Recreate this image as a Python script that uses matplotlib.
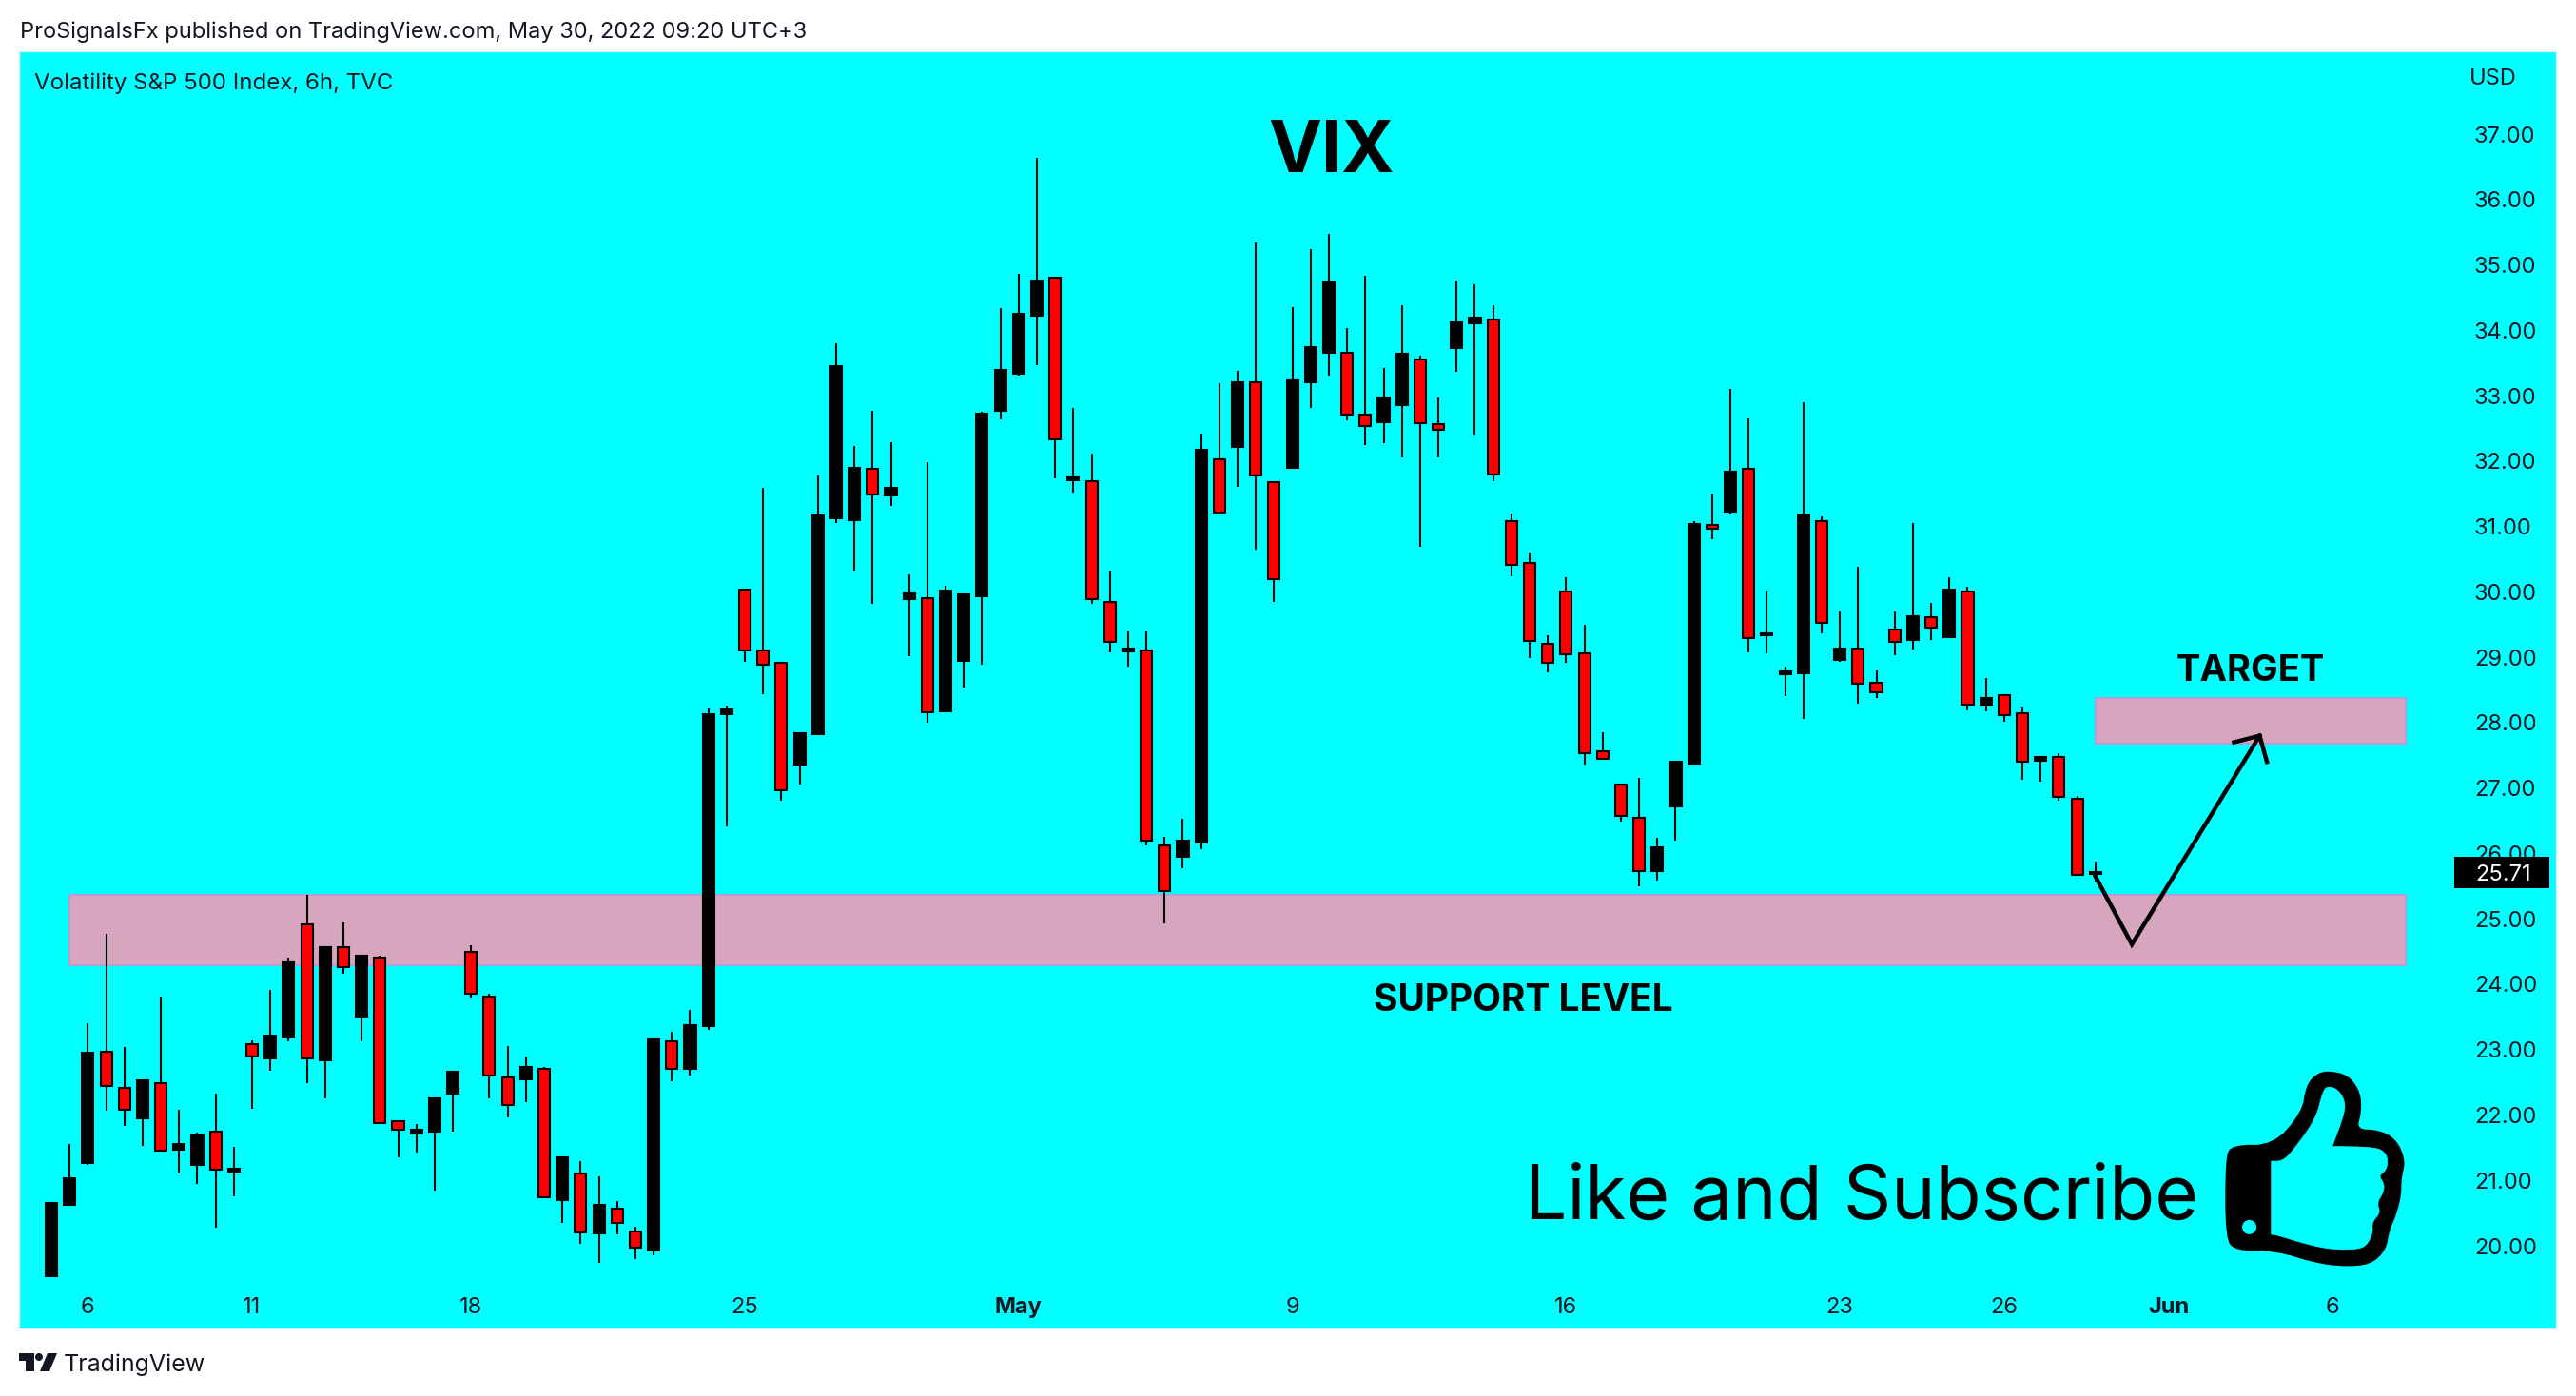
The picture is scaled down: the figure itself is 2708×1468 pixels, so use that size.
import numpy as np
import matplotlib
matplotlib.use('Agg')
import matplotlib.pyplot as plt
from matplotlib.patches import Rectangle, Polygon, Ellipse
from matplotlib.transforms import Affine2D

plt.rcParams['font.family'] = ['Inter', 'DejaVu Sans']

# Candles, 6h bars (black = up, red = down)
opens = [19.54, 20.62, 21.26, 22.96, 22.41, 21.95, 22.49, 21.47, 21.23, 21.74,
         21.14, 23.08, 22.87, 23.18, 24.92, 22.84, 24.56, 23.50, 24.41, 21.90,
         21.71, 21.74, 22.33, 24.50, 23.81, 22.57, 22.54, 22.70, 20.70, 21.11,
         20.19, 20.57, 20.22, 19.93, 23.13, 22.70, 23.36, 28.13, 30.03, 29.10,
         28.92, 27.36, 27.83, 31.13, 31.10, 31.88, 31.48, 29.89, 29.91, 28.18,
         28.95, 29.94, 32.77, 33.34, 34.23, 34.80, 31.71, 31.70, 29.85, 29.09,
         29.11, 26.13, 25.95, 26.17, 32.03, 32.22, 33.20, 31.68, 31.89, 33.21,
         33.66, 33.65, 32.71, 32.59, 32.86, 33.56, 32.56, 33.73, 34.11, 34.17,
         31.08, 30.44, 29.21, 30.00, 29.06, 27.57, 27.06, 26.55, 25.73, 26.72,
         27.38, 31.03, 31.23, 31.88, 29.33, 28.74, 28.76, 31.08, 28.96, 29.14,
         28.61, 29.42, 29.27, 29.62, 29.31, 30.01, 28.28, 28.42, 28.15, 27.42,
         27.48, 26.84, 25.68]
highs = [20.67, 21.55, 23.41, 24.77, 23.04, 22.54, 23.81, 22.08, 21.73, 22.32,
         21.51, 23.14, 23.91, 24.40, 25.37, 24.57, 24.95, 24.44, 24.43, 21.90,
         21.86, 22.25, 22.67, 24.59, 23.85, 23.06, 22.90, 22.73, 21.36, 21.30,
         21.06, 20.68, 20.29, 23.16, 23.27, 23.60, 28.22, 28.26, 30.05, 31.59,
         28.92, 27.86, 31.78, 33.80, 32.23, 32.77, 32.29, 30.27, 31.99, 30.09,
         29.96, 32.75, 34.34, 34.86, 36.64, 34.80, 32.81, 32.11, 30.32, 29.39,
         29.40, 26.26, 26.53, 32.42, 33.19, 33.38, 35.34, 31.68, 34.36, 35.24,
         35.47, 34.03, 34.83, 33.42, 34.38, 33.62, 32.97, 34.76, 34.70, 34.38,
         31.20, 30.60, 29.33, 30.22, 29.49, 27.86, 27.06, 27.16, 26.24, 27.41,
         31.08, 31.49, 33.10, 32.65, 30.01, 28.85, 32.90, 31.15, 29.70, 30.38,
         28.80, 29.70, 31.06, 29.83, 30.22, 30.08, 28.68, 28.44, 28.24, 27.48,
         27.53, 26.88, 25.87]
lows = [19.54, 20.62, 21.23, 22.06, 21.84, 21.53, 21.45, 21.11, 20.95, 20.27,
        20.75, 22.09, 22.68, 23.13, 22.48, 22.26, 24.16, 23.13, 21.88, 21.36,
        21.43, 20.85, 21.75, 23.80, 22.26, 21.97, 22.19, 20.74, 20.35, 20.03,
        19.74, 20.18, 19.80, 19.85, 22.52, 22.61, 23.30, 26.41, 28.93, 28.43,
        26.80, 27.06, 27.83, 31.06, 30.33, 29.82, 31.31, 29.01, 28.00, 28.18,
        28.54, 28.89, 32.64, 33.31, 33.47, 31.74, 31.52, 29.82, 29.07, 28.86,
        26.13, 24.93, 25.78, 26.06, 31.19, 31.61, 30.65, 29.84, 31.89, 32.82,
        33.31, 32.63, 32.24, 32.28, 32.06, 30.69, 32.06, 33.37, 32.41, 31.70,
        30.24, 28.99, 28.77, 28.91, 27.36, 27.44, 26.49, 25.50, 25.59, 26.20,
        27.38, 30.80, 31.18, 29.08, 29.06, 28.41, 28.06, 29.36, 28.93, 28.29,
        28.38, 29.03, 29.12, 29.26, 29.30, 28.19, 28.17, 28.02, 27.13, 27.10,
        26.81, 25.67, 25.56]
closes = [20.655, 21.03, 22.95, 22.44, 22.08, 22.53, 21.45, 21.56, 21.70, 21.17,
          21.18, 22.89, 23.22, 24.33, 22.86, 24.57, 24.26, 24.44, 21.88, 21.78,
          21.77, 22.25, 22.66, 23.85, 22.61, 22.15, 22.73, 20.74, 21.36, 20.20,
          20.62, 20.35, 19.97, 23.15, 22.70, 23.37, 28.13, 28.20, 29.11, 28.89,
          26.97, 27.84, 31.17, 33.45, 31.90, 31.49, 31.59, 29.97, 28.16, 30.02,
          29.96, 32.73, 33.39, 34.25, 34.76, 32.33, 31.75, 29.89, 29.24, 29.13,
          26.19, 25.42, 26.19, 32.17, 31.22, 33.20, 31.78, 30.19, 33.23, 33.75,
          34.73, 32.71, 32.53, 32.98, 33.64, 32.58, 32.48, 34.12, 34.20, 31.80,
          30.41, 29.25, 28.91, 29.04, 27.54, 27.44, 26.58, 25.73, 26.10, 27.41,
          31.04, 30.97, 31.84, 29.30, 29.37, 28.78, 31.18, 29.52, 29.14, 28.59,
          28.47, 29.23, 29.63, 29.46, 30.03, 28.28, 28.37, 28.12, 27.41, 27.48,
          26.86, 25.67, 25.71]

x_tick_pos = [2, 11, 23, 38, 53, 68, 83, 98, 107, 116, 125]
x_tick_labels = ['6', '11', '18', '25', 'May', '9', '16', '23', '26', 'Jun', '6']
bold_ticks = ['May', 'Jun']
y_ticks = list(range(20, 38))

support_zone = (24.29, 25.37)
target_zone = (27.68, 28.37)
zone_span = (1, 129)
target_start = 112
arrow_x = [112, 114, 121]
arrow_y = [25.65, 24.61, 27.80]
barb_x = [119.6, 121, 121.4]
barb_y = [27.70, 27.80, 27.40]
last_price = 25.71

W, H = 2708, 1468
CYAN = '#00ffff'
INK = '#131722'
ZONE = '#d5a6bd'
ZONE_EDGE = '#c98fd6'

fig = plt.figure(figsize=(W / 100, H / 100), dpi=100, facecolor='white')
ax = fig.add_axes([20 / W, 1 - 1397 / H, 2667 / W, 1343.5 / H], facecolor=CYAN)
ax.set_xlim(-1.772, 137.24)
ax.set_ylim(18.735, 38.274)

# zones
ax.add_patch(Rectangle((zone_span[0], support_zone[0]), zone_span[1] - zone_span[0],
                       support_zone[1] - support_zone[0], fc=ZONE, ec=ZONE_EDGE, lw=1.2, zorder=1))
ax.add_patch(Rectangle((target_start, target_zone[0]), zone_span[1] - target_start,
                       target_zone[1] - target_zone[0], fc=ZONE, ec=ZONE_EDGE, lw=1.2, zorder=1))

# candles
idx = np.arange(len(opens))
o, h, l, c = map(np.array, (opens, highs, lows, closes))
up = c >= o
ax.vlines(idx, l, h, color='black', lw=1.5, zorder=3)
ax.bar(idx[up], (c - o)[up], bottom=o[up], width=0.63, color='black',
       edgecolor='black', lw=1.5, zorder=4)
ax.bar(idx[~up], (o - c)[~up], bottom=c[~up], width=0.63, color='#ff0000',
       edgecolor='black', lw=1.5, zorder=4)

# hand drawn path
ax.plot(arrow_x, arrow_y, color='black', lw=3.2, solid_joinstyle='miter', zorder=5)
ax.plot(barb_x, barb_y, color='black', lw=3.2, solid_joinstyle='miter', zorder=5)

# axes, labels sit inside the pane like on TradingView
ax.yaxis.tick_right()
ax.set_yticks(y_ticks)
ax.set_yticklabels([f'{v:.2f}' for v in y_ticks])
ax.tick_params(axis='y', length=0, pad=-62, labelsize=17, labelcolor=INK)
ax.set_xticks(x_tick_pos)
ax.set_xticklabels(x_tick_labels)
ax.tick_params(axis='x', length=0, pad=-24, labelsize=17, labelcolor=INK)
for lab in ax.get_xticklabels():
    if lab.get_text() in bold_ticks:
        lab.set_fontweight('bold')
for s in ax.spines.values():
    s.set_color('#d8eef0')
    s.set_linewidth(1)

# last price tag
ax.add_patch(Rectangle((131.66, last_price - 0.245), 5.21, 0.49, fc='black', ec='none', zorder=6))
ax.text(134.35, last_price, f'{last_price:.2f}', color='white', fontsize=17,
        ha='center', va='center_baseline', zorder=7)

# annotations
def px_text(x, y, s, **kw):
    fig.text(x / W, 1 - y / H, s, **kw)

px_text(21, 34, 'ProSignalsFx published on TradingView.com, May 30, 2022 09:20 UTC+3',
        fontsize=17, color=INK, va='center')
px_text(36, 88, 'Volatility S&P 500 Index, 6h, TVC', fontsize=17.3, color=INK, va='center')
px_text(2596, 83, 'USD', fontsize=17, color=INK, va='center')
px_text(1399, 181, 'VIX', fontsize=54, fontweight='bold', color='black', ha='center', va='baseline')
px_text(2366, 716, 'TARGET', fontsize=27.5, fontweight='bold', color='black', ha='center', va='baseline')
px_text(1601, 1063, 'SUPPORT LEVEL', fontsize=28, fontweight='bold', color='black', ha='center', va='baseline')
px_text(1603, 1282, 'Like and Subscribe', fontsize=56.5, color='black', ha='left', va='baseline')
px_text(67, 1435, 'TradingView', fontsize=18, color=INK, va='center')

# pixel coordinates of the image -> figure
to_fig = Affine2D().scale(1 / W, -1 / H).translate(0, 1) + fig.transFigure


def smooth(points, rounds=2):
    # corner cutting, the icon has no hard corners except the cuff
    pts = np.array(points, dtype=float)
    for _ in range(rounds):
        nxt = np.roll(pts, -1, axis=0)
        pts = np.column_stack([0.75 * pts + 0.25 * nxt, 0.25 * pts + 0.75 * nxt]).reshape(-1, 2)
    return pts


# thumbs up icon
thumb_map = Affine2D().scale(1 / 2.81, 1 / 2.178).translate(2150, 660)
thumb_outer = [(534, 1215), (552, 1186), (675, 1186), (760, 1110), (772, 1050), (800, 1024),
               (835, 1016), (895, 1026), (930, 1065), (932, 1110), (918, 1150), (985, 1152),
               (1035, 1172), (1063, 1220), (1050, 1262), (1050, 1300), (1035, 1345),
               (1015, 1380), (1005, 1425), (960, 1458), (880, 1462), (800, 1454), (680, 1426),
               (565, 1426), (534, 1400)]
thumb_inner = [(668, 1222), (668, 1222), (700, 1222), (730, 1200), (800, 1125), (820, 1062), (835, 1050),
               (865, 1058), (886, 1085), (883, 1115), (848, 1188), (848, 1188), (970, 1190), (1003, 1200),
               (1013, 1222), (1005, 1245), (985, 1255), (1002, 1275), (998, 1295), (980, 1317),
               (990, 1340), (965, 1362), (968, 1385), (950, 1415), (920, 1424), (850, 1424),
               (780, 1414), (680, 1390), (668, 1390), (668, 1390)]
fig.add_artist(Polygon(thumb_map.transform(smooth(thumb_outer)), closed=True, fc='black', ec='black',
                       lw=1, joinstyle='round', transform=to_fig))
fig.add_artist(Polygon(thumb_map.transform(smooth(thumb_inner)), closed=True, fc=CYAN, ec=CYAN,
                       lw=0.5, joinstyle='round', transform=to_fig))
fig.add_artist(Ellipse(thumb_map.transform([(603, 1373)])[0], 15, 15, fc=CYAN, ec='none', transform=to_fig))

# TradingView logo
fig.add_artist(Polygon([(20, 1423), (36, 1423), (36, 1442), (27, 1442), (27, 1431), (20, 1431)],
                       closed=True, fc=INK, ec='none', transform=to_fig))
fig.add_artist(Ellipse((41, 1427), 8, 8, fc=INK, ec='none', transform=to_fig))
fig.add_artist(Polygon([(50, 1423), (60, 1423), (52, 1442), (42, 1442)],
                       closed=True, fc=INK, ec='none', transform=to_fig))

fig.savefig('out.png', dpi=100, facecolor='white')
